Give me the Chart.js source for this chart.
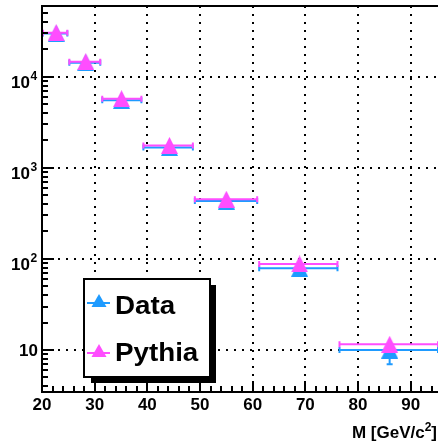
<!DOCTYPE html>
<html><head><meta charset="utf-8">
<style>html,body{margin:0;padding:0;background:#fff;overflow:hidden;width:438px;height:444px}canvas{display:block}</style>
<script src="https://cdn.jsdelivr.net/npm/chart.js@4.4.1/dist/chart.umd.min.js"></script>
</head><body><canvas id="c" width="438" height="444" style="width:438px;height:444px"></canvas>
<script>
// ---- data ----
const binLow  = [20, 25, 31.25, 39.06, 48.83, 61.04, 76.29];
const binHigh = [25, 31.25, 39.06, 48.83, 61.04, 76.29, 95.37];
const massPythia = [22.7, 28.3, 35.1, 44.2, 55.0, 68.9, 86.0];
const massData   = [22.7, 28.3, 35.1, 44.2, 55.0, 68.9, 86.0];
const pythiaValues = [30450, 14630, 5730, 1762, 452, 88, 11.55];
const dataValues   = [29700, 14250, 5500, 1675, 432, 79, 10.0];
const dataErrLow   = [150, 100, 60, 30, 15, 6, 3.2];
const dataErrHigh  = [150, 100, 60, 30, 15, 6, 3.2];
const xTickLabels = ['20','30','40','50','60','70','80','90'];
const yTickExponents = [1, 2, 3, 4];
const legendLabels = ['Data', 'Pythia'];
const xTitle = 'M [GeV/c', xTitleSup = '2', xTitleEnd = ']';

const BLUE = '#1f9bff', MAGENTA = '#ff4dff';
const FONT = '"Liberation Sans", Arial, Helvetica, sans-serif';

function triCanvas(color, w, h) {
  const c = document.createElement('canvas');
  c.width = w; c.height = h;
  const g = c.getContext('2d');
  g.fillStyle = color;
  g.beginPath();
  g.moveTo(w / 2, 0); g.lineTo(w, h); g.lineTo(0, h); g.closePath();
  g.fill();
  return c;
}
const triP = triCanvas(MAGENTA, 17, 17);
const triD = triCanvas(BLUE, 17, 17);

const errorBarPlugin = {
  id: 'errbars',
  beforeDatasetDraw(chart, args) {
    const ds = chart.data.datasets[args.index];
    const xs = chart.scales.x, ys = chart.scales.y, ctx = chart.ctx;
    ctx.save();
    ctx.strokeStyle = ds.errColor; ctx.lineWidth = 2;
    ds.data.forEach((p, i) => {
      const y = ys.getPixelForValue(p.y);
      const x = xs.getPixelForValue(p.x);
      const x0 = xs.getPixelForValue(binLow[i]), x1 = xs.getPixelForValue(binHigh[i]);
      ctx.beginPath();
      ctx.moveTo(x0, y); ctx.lineTo(x1, y);
      ctx.moveTo(x0 + 1, y - 3); ctx.lineTo(x0 + 1, y + 3);
      ctx.moveTo(x1 - 1, y - 3); ctx.lineTo(x1 - 1, y + 3);
      if (ds.errLow) {
        const yl = ys.getPixelForValue(p.y - ds.errLow[i]);
        const yh = ys.getPixelForValue(p.y + ds.errHigh[i]);
        ctx.moveTo(x, yh); ctx.lineTo(x, yl);
        ctx.moveTo(x - 3, yl - 1); ctx.lineTo(x + 3, yl - 1);
      }
      ctx.stroke();
    });
    ctx.restore();
  }
};

function stretchedText(ctx, txt, x, y, sx) {
  ctx.save();
  ctx.translate(x, y); ctx.scale(sx, 1);
  ctx.fillText(txt, 0, 0);
  ctx.restore();
}

const decorPlugin = {
  id: 'decor',
  afterDraw(chart) {
    const ctx = chart.ctx, xs = chart.scales.x, ys = chart.scales.y, a = chart.chartArea;
    ctx.save();
    ctx.strokeStyle = '#000'; ctx.fillStyle = '#000'; ctx.lineWidth = 2;
    // axis lines and top frame
    ctx.beginPath();
    ctx.moveTo(a.left, a.top); ctx.lineTo(a.left, a.bottom + 1);
    ctx.moveTo(a.left - 1, a.bottom); ctx.lineTo(a.right, a.bottom);
    ctx.moveTo(a.left - 1, a.top); ctx.lineTo(a.right, a.top);
    ctx.stroke();
    // y ticks
    ctx.beginPath();
    for (let e = 0; e <= 5; e++) {
      for (let m = 1; m <= 9; m++) {
        const v = m * Math.pow(10, e);
        if (v < ys.min || v > ys.max) continue;
        const y = Math.round(ys.getPixelForValue(v));
        const len = m === 1 ? 12 : 6;
        ctx.moveTo(a.left, y); ctx.lineTo(a.left + len, y);
      }
    }
    // x ticks
    for (let v = 20; v <= 95; v += 2) {
      const x = Math.round(xs.getPixelForValue(v));
      const len = v % 10 === 0 ? 11 : 6;
      ctx.moveTo(x, a.bottom); ctx.lineTo(x, a.bottom - len);
    }
    ctx.stroke();
    // x labels
    ctx.font = 'bold 17px ' + FONT;
    ctx.textAlign = 'center'; ctx.textBaseline = 'alphabetic';
    xTickLabels.forEach(t => {
      const x = xs.getPixelForValue(parseFloat(t));
      ctx.fillText(t, x, 410);
    });
    // y labels
    yTickExponents.forEach(e => {
      const y = ys.getPixelForValue(Math.pow(10, e));
      if (e === 1) {
        ctx.font = 'bold 17px ' + FONT; ctx.textAlign = 'right';
        ctx.fillText('10', 38, y + 6);
      } else {
        ctx.font = 'bold 17px ' + FONT; ctx.textAlign = 'right';
        ctx.fillText('10', 30, y + 11);
        ctx.font = 'bold 12px ' + FONT; ctx.textAlign = 'left';
        ctx.fillText(String(e), 30.5, y + 3);
      }
    });
    // x title
    ctx.textAlign = 'right';
    ctx.font = 'bold 17px ' + FONT;
    const wEnd = ctx.measureText(xTitleEnd).width;
    ctx.fillText(xTitleEnd, 437, 438);
    ctx.font = 'bold 12px ' + FONT;
    const wSup = ctx.measureText(xTitleSup).width;
    ctx.fillText(xTitleSup, 437 - wEnd, 431);
    ctx.font = 'bold 17px ' + FONT;
    ctx.fillText(xTitle, 437 - wEnd - wSup, 438);
    // legend
    ctx.fillStyle = '#000';
    ctx.fillRect(211, 285, 5, 98);
    ctx.fillRect(91, 378, 125, 5);
    ctx.fillStyle = '#fff';
    ctx.fillRect(84, 279, 126, 98);
    ctx.strokeStyle = '#000'; ctx.lineWidth = 2;
    ctx.strokeRect(84, 279, 126, 98);
    const entries = [[legendLabels[0], BLUE, 303, 314], [legendLabels[1], MAGENTA, 353, 361]];
    entries.forEach(([lab, col, ym, yb]) => {
      ctx.strokeStyle = col; ctx.fillStyle = col; ctx.lineWidth = 2;
      ctx.beginPath(); ctx.moveTo(87, ym); ctx.lineTo(110, ym); ctx.stroke();
      ctx.beginPath();
      ctx.moveTo(99, ym - 9); ctx.lineTo(106.5, ym + 4); ctx.lineTo(91.5, ym + 4); ctx.closePath();
      ctx.fill();
      ctx.fillStyle = '#000';
      ctx.font = 'bold 25px ' + FONT; ctx.textAlign = 'left';
      stretchedText(ctx, lab, 115, yb, 1.11);
    });
    ctx.restore();
  }
};

const isDecade = v => v >= 10 && Math.abs(Math.log10(v) - Math.round(Math.log10(v))) < 1e-9;

new Chart(document.getElementById('c'), {
  type: 'scatter',
  data: {
    datasets: [
      { label: legendLabels[1], data: massPythia.map((x, i) => ({ x, y: pythiaValues[i] })),
        pointStyle: triP, pointRadius: 8, errColor: MAGENTA, order: 0 },
      { label: legendLabels[0], data: massData.map((x, i) => ({ x, y: dataValues[i] })),
        pointStyle: triD, pointRadius: 8, errColor: BLUE, errLow: dataErrLow, errHigh: dataErrHigh, order: 1 }
    ]
  },
  options: {
    responsive: false, animation: false, devicePixelRatio: 1,
    layout: { autoPadding: false, padding: { left: 42, top: 6, right: 0, bottom: 52 } },
    plugins: { legend: { display: false }, tooltip: { enabled: false } },
    scales: {
      x: {
        type: 'linear', min: 20, max: 95.18,
        afterFit(s) { s.height = 0; },
        ticks: { display: false, stepSize: 10, includeBounds: false },
        grid: { drawTicks: false, lineWidth: 2,
          color: c => (c.tick && c.tick.value > 25 && c.tick.value < 95 && c.tick.value % 10 === 0) ? '#000' : 'rgba(0,0,0,0)' },
        border: { display: false, dash: [2, 6] }
      },
      y: {
        type: 'logarithmic', min: 3.46, max: 59700,
        afterFit(s) { s.width = 0; },
        ticks: { display: false },
        grid: { drawTicks: false, lineWidth: 2,
          color: c => (c.tick && isDecade(c.tick.value)) ? '#000' : 'rgba(0,0,0,0)' },
        border: { display: false, dash: [2, 6] }
      }
    }
  },
  plugins: [errorBarPlugin, decorPlugin]
});
</script>
</body></html>
